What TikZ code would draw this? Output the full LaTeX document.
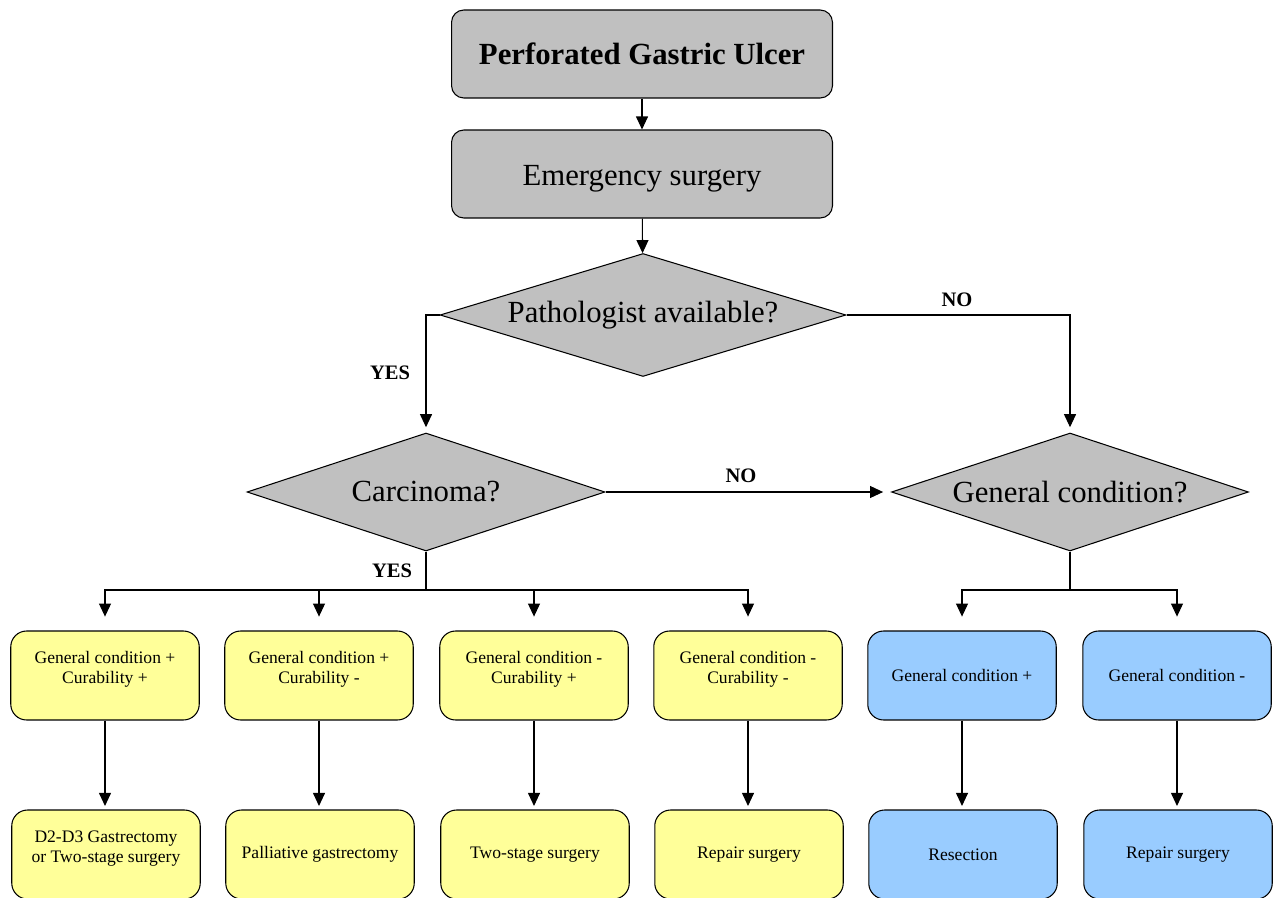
\documentclass[tikz,border=0pt]{standalone}
\usepackage{fontspec}
\setmainfont{Liberation Serif}
\usepackage{tikz}
\usetikzlibrary{shapes.geometric}
\usetikzlibrary{arrows.meta, positioning}
\definecolor{boxgray}{HTML}{C0C0C0}
\definecolor{boxyellow}{HTML}{FFFF99}
\definecolor{boxblue}{HTML}{99CCFF}
\tikzstyle{graybox}=[draw, fill=boxgray, rounded corners=7pt, minimum width=7.62cm, minimum height=1.76cm, font=\fontsize{17.5}{20}\selectfont]
\tikzstyle{decision}=[diamond, draw, fill=boxgray, inner sep=0pt, aspect=3, font=\fontsize{17.5}{20}\selectfont]
\tikzstyle{yellowbox}=[draw, fill=boxyellow, rounded corners=9pt, minimum width=3.77cm, minimum height=1.78cm, align=center, font=\fontsize{10}{11.3}\selectfont]
\tikzstyle{bluebox}=[yellowbox, fill=boxblue]
\tikzstyle{twoline}=[text depth=9pt]
\tikzstyle{lbl}=[font=\bfseries\fontsize{11.7}{14}\selectfont]

\begin{document}
\begin{tikzpicture}[x=0.02cm, y=-0.02cm, line width=0.6pt, >={Triangle[width=6.8pt,length=7.4pt]}]
	\useasboundingbox (0,0) rectangle (1273,898);
	% top of the chart
	\node [graybox, font=\bfseries\fontsize{17.5}{20}\selectfont] (ulcer) at (642, 54) {Perforated Gastric Ulcer};
	\node [graybox, text height=17pt] (emerg) at (642, 174) {Emergency surgery};
	\node [decision, minimum width=8.12cm, minimum height=2.46cm] (patho) at (643, 315) {Pathologist available?};
	\node [decision, minimum width=7.16cm, minimum height=2.36cm] (carc) at (426, 492) {Carcinoma?};
	\node [decision, minimum width=7.14cm, minimum height=2.36cm] (gencond) at (1070, 492) {General condition?};
	% carcinoma branch
	\node [yellowbox, twoline] (gcA) at (105, 675.5) {General condition +\\Curability +};
	\node [yellowbox, twoline] (gcB) at (319, 675.5) {General condition +\\Curability -};
	\node [yellowbox, twoline] (gcC) at (534, 675.5) {General condition -\\Curability +};
	\node [yellowbox, twoline] (gcD) at (748, 675.5) {General condition -\\Curability -};
	\node [yellowbox, twoline] (opA) at (106, 854.5) {D2-D3 Gastrectomy\\or Two-stage surgery};
	\node [yellowbox] (opB) at (320, 854.5) {Palliative gastrectomy};
	\node [yellowbox] (opC) at (535, 854.5) {Two-stage surgery};
	\node [yellowbox] (opD) at (749, 854.5) {Repair surgery};
	% no carcinoma branch
	\node [bluebox] (gcE) at (962, 675.5) {General condition +};
	\node [bluebox] (gcF) at (1177, 675.5) {General condition -};
	\node [bluebox] (opE) at (963, 854.5) {Resection};
	\node [bluebox] (opF) at (1178, 854.5) {Repair surgery};
	\coordinate (busL) at (426, 590);
	\coordinate (busR) at (1070, 590);
	% connectors
	\draw [->] (ulcer) to (emerg);
	\draw [->] (emerg) to (patho);
	\draw [->, shorten >=3pt] (patho.west) -| (carc.north);
	\draw [->, shorten >=3pt] (patho.east) -| (gencond.north);
	\draw [->, shorten >=4.5pt] (carc.east) to (gencond.west);
	\draw (carc.south) to (busL);
	\draw (gencond.south) to (busR);
	\foreach \b in {gcA, gcB, gcC, gcD}
		\draw [->, shorten >=7.9pt] (busL) -| (\b.north);
	\foreach \b in {gcE, gcF}
		\draw [->, shorten >=7.9pt] (busR) -| (\b.north);
	\foreach \a/\b in {gcA/opA, gcB/opB, gcC/opC, gcD/opD, gcE/opE, gcF/opF}
		\draw [->, shorten >=2pt] (\a.south) -- (\a.south |- \b.north);
	% branch labels
	\node [lbl] (yes1) at (390, 373) {YES};
	\node [lbl] (no1) at (957, 300) {NO};
	\node [lbl] (no2) at (741, 476) {NO};
	\node [lbl] (yes2) at (392, 571) {YES};
\end{tikzpicture}
\end{document}
